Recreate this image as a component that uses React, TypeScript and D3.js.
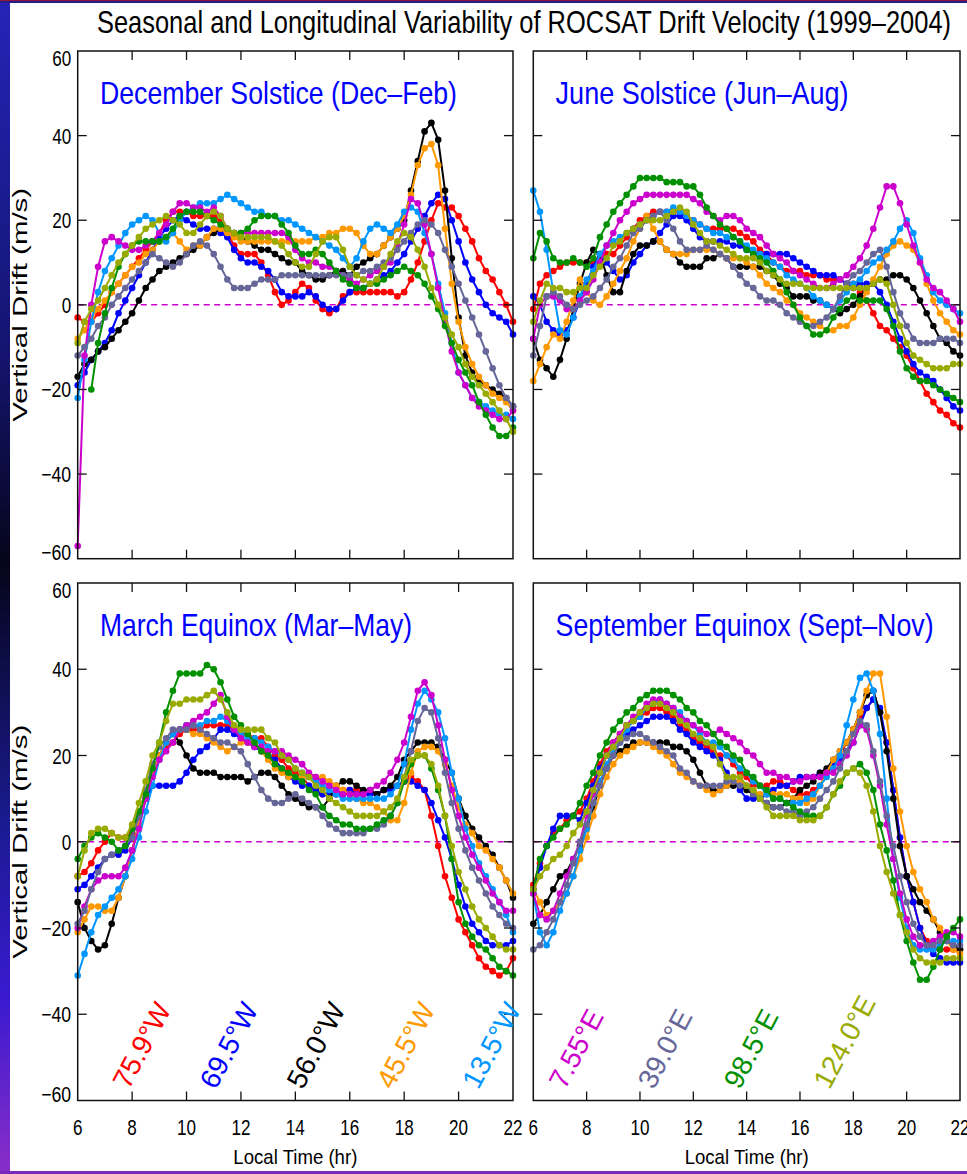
import React from 'react';
import * as d3 from 'd3';

// ---------------- data ----------------
const HOURS: number[] = d3.range(0, 65).map((i) => 6 + i * 0.25);
const X_TICKS = [6, 8, 10, 12, 14, 16, 18, 20, 22];
const Y_TICKS = [-60, -40, -20, 0, 20, 40, 60];

const SERIES_NAMES = ['75.9°W', '69.5°W', '56.0°W', '45.5°W', '13.5°W', '7.55°E', '39.0°E', '98.5°E', '124.0°E'];
const SERIES_COLORS = ['#ff0000', '#0000ff', '#000000', '#ff9900', '#0096ff', '#cc00cc', '#666699', '#009000', '#99aa00'];
const PANEL_TITLES = ['December Solstice (Dec–Feb)', 'June Solstice (Jun–Aug)', 'March Equinox (Mar–May)', 'September Equinox (Sept–Nov)'];
const LABEL_HOURS_LEFT = [7.25, 10.45, 13.65, 16.95, 20.1];
const LABEL_HOURS_RIGHT = [6.55, 9.88, 13.1, 16.47];
const LABEL_VALUE = -57.7;

type V = number | null;

// December Solstice
const dec_759W: V[] = [-3,-4,-4,-2, 0,3,5,7, 9,11,13,15, 17,20,22,22, 22,21,21,21, 21,20,17,14, 12,12,12,10, 7,3,0,1, 3,5,4,1, -1,-2,-1,2, 3,3,3,3, 3,3,3,2, 3,6,10,15, 20,24,23,23, 21,18,15,11, 8,6,3,0, -4];
const dec_695W: V[] = [-19,-16,-13,-11, -9,-6,-2,1, 4,7,10,13, 16,18,20,21, 20,19,18,18, 18,17,16,13, 11,10,10,9, 8,6,3,2, 2,2,3,2, 0,-1,-1,1, 3,4,4,5, 6,7,8,10, 12,15,18,21, 24,26,25,20, 15,10,6,3, 0,-2,-3,-4, -7];
const dec_560W: V[] = [-17,-14,-13,-11, -10,-8,-6,-4, -2,1,4,6, 8,9,10,11, 12,13,14,16, 17,18,18,17, 16,15,14,13, 13,12,11,10, 10,8,7,6, 6,7,8,8, 7,9,10,11, 12,14,16,18, 20,27,34,41, 43,39,27,11, -3,-12,-16,-18, -19,-20,-21,-22, -24];
const dec_455W: V[] = [-8,-6,-3,-1, 1,3,5,7, 9,10,12,13, 15,16,17,15, 13,14,14,16, 18,18,17,16, 15,15,15,15, 15,15,15,15, 15,15,15,16, 16,17,17,18, 18,17,14,12, 12,14,16,18, 21,26,33,37, 38,33,18,5, -4,-10,-14,-17, -19,-21,-22,-23, -25];
const dec_135W: V[] = [-22,-13,-4,3, 8,11,14,17, 19,20,21,20, 17,15,17,20, 22,23,24,24, 24,25,26,25, 24,23,22,22, 21,21,20,20, 19,18,17,16, 15,14,13,11, 9,11,15,18, 19,18,17,19, 22,23,22,17, 12,5,-2,-9, -16,-19,-22,-23, -24,-25,-26,-26, -27];
const dec_755E: V[] = [-57,-12,0,9, 15,16,15,14, 13,13,14,15, 17,19,22,24, 24,23,23,22, 23,21,18,17, 17,17,17,17, 17,17,17,16, 13,11,10,10, 9,9,8,7, 6,5,6,7, 8,9,10,14, 19,25,24,19, 12,4,-4,-11, -16,-19,-22,-24, -25,-26,-27,-27, -25];
const dec_390E: V[] = [-12,-10,-8,-5, -3,0,2,4, 6,8,10,12, 11,10,9,10, 12,14,15,14, 12,9,6,4, 4,4,5,6, 6,6,7,7, 7,7,7,7, 7,7,7,7, 7,7,8,8, 9,10,11,13, 15,17,19,20, 19,17,13,9, 5,1,-3,-7, -11,-15,-19,-22, -24];
const dec_985E: V[] = [null,null,-20,-9, -2,4,9,12, 14,15,15,15, 15,16,18,21, 22,22,22,21, 20,19,18,17, 17,18,20,21, 21,21,19,17, 14,12,12,13, 12,10,8,6, 5,4,4,5, 5,6,7,8, 9,8,7,5, 2,-1,-5,-9, -13,-16,-19,-23, -26,-29,-31,-31, -29];
const dec_1240E: V[] = [-9,-4,-1,1, 4,7,10,12, 14,16,18,19, 20,21,20,19, 17,17,19,21, 22,21,18,17, 16,16,16,16, 16,15,14,12, 10,9,9,12, 15,16,16,13, 9,7,6,5, 6,9,12,15, 17,16,13,9, 4,0,-3,-7, -10,-14,-17,-19, -21,-23,-25,-27, -30];

// June Solstice
const jun_759W: V[] = [-1,5,7,8, 9,10,10,10, 10,10,11,12, 12,14,16,18, 20,21,22,22, 22,22,22,21, 20,19,18,18, 18,18,18,17, 16,15,13,12, 10,9,8,8, 8,7,7,7, 6,6,6,5, 5,3,1,-2, -5,-6,-8,-10, -12,-15,-18,-21, -23,-25,-26,-28, -29];
const jun_695W: V[] = [2,0,-4,-6, -7,-6,-3,1, 5,9,12,10, 8,6,7,10, 12,14,15,17, 19,21,21,20, 18,16,15,15, 15,15,14,14, 13,12,12,12, 12,12,12,11, 10,9,8,7, 7,7,6,5, 4,5,5,5, 3,0,-4,-8, -11,-14,-16,-17, -18,-20,-22,-24, -25];
const jun_560W: V[] = [-8,-13,-15,-17, -13,-8,-1,5, 10,13,12,7, 3,3,8,12, 14,14,15,15, 13,12,10,9, 9,9,11,11, 12,11,9,9, 9,9,9,8, 7,5,4,2, 2,2,1,1, 0,-1,-2,-1, 0,2,4,5, 6,6,7,7, 6,4,1,-2, -5,-8,-9,-11, -12];
const jun_455W: V[] = [-18,-14,-10,-7, -8,-4,1,6, 3,1,0,2, 5,8,11,15, 18,21,18,15, 13,12,12,12, 13,13,13,13, 12,11,11,11, 10,9,7,5, 4,3,1,0, -2,-3,-4,-5, -6,-6,-5,-5, -3,0,3,6, 9,12,14,15, 14,13,10,5, 1,-2,-4,-6, -7];
const jun_135W: V[] = [27,22,13,3, -6,-7,-3,2, 6,8,12,14, 15,16,17,18, 19,20,21,22, 22,23,22,21, 20,19,18,17, 17,16,16,15, 14,13,12,11, 10,9,7,6, 5,4,2,1, 0,-1,1,3, 5,6,8,10, 11,13,15,18, 20,17,11,7, 3,1,0,-1, -2];
const jun_755E: V[] = [-8,0,2,2, 1,-1,-1,1, 3,6,10,14, 17,20,22,24, 25,26,26,26, 26,26,26,26, 25,24,22,21, 20,21,21,20, 18,17,16,14, 12,11,10,8, 7,6,5,4, 4,5,6,7, 9,11,14,18, 23,28,28,24, 19,14,10,6, 4,3,1,-1, -4];
const jun_390E: V[] = [-12,-5,2,3, 2,0,-1,0, 1,2,4,6, 9,11,14,17, 18,20,21,22, 20,18,15,13, 13,13,14,13, 12,11,9,7, 5,4,2,1, 1,0,-2,-3, -4,-5,-5,-4, -3,-1,2,5, 7,8,10,12, 13,9,3,-2, -5,-8,-9,-9, -9,-8,-8,-8, -9];
const jun_985E: V[] = [11,17,15,11, 10,10,11,10, 9,11,16,19, 22,24,26,28, 30,30,30,30, 29,29,29,28, 28,26,23,21, 19,18,16,15, 13,12,11,10, 8,6,3,0, -3,-5,-7,-7, -6,-3,-1,1, 2,1,1,1, 1,-1,-5,-11, -15,-17,-18,-18, -19,-20,-21,-22, -23];
const jun_1240E: V[] = [-4,1,5,4, 4,3,3,4, 4,7,9,11, 14,15,17,18, 19,20,20,20, 21,22,23,22, 19,17,15,15, 14,13,12,11, 11,11,10,8, 7,6,5,5, 5,4,4,4, 4,4,4,4, 4,4,4,5, 6,5,0,-5, -9,-12,-13,-14, -15,-15,-15,-14, -14];

// March Equinox
const mar_759W: V[] = [-8,-7,-5,-2, 0,2,1,1, 2,6,11,16, 20,22,23,25, 26,26,26,27, 27,27,27,26, 25,25,24,24, 22,20,19,17, 16,15,13,12, 11,11,11,12, 12,12,11,11, 11,12,12,13, 14,15,14,12, 6,-1,-8,-13, -18,-21,-24,-27, -29,-30,-31,-30, -27];
const mar_695W: V[] = [-11,-10,-8,-6, -4,-3,-3,-2, 1,6,10,13, 13,13,13,14, 16,19,21,22, 24,26,26,25, 24,23,22,21, 20,19,17,15, 14,13,13,12, 11,11,11,11, 12,11,11,11, 11,12,12,13, 14,14,13,12, 9,5,1,-4, -10,-15,-19,-21, -23,-24,-24,-24, -23];
const mar_560W: V[] = [-14,-20,-23,-25, -24,-19,-13,-8, -2,4,10,16, 20,23,25,23, 20,17,16,16, 16,15,15,15, 15,14,15,16, 16,15,13,11, 10,9,8,8, 8,10,13,14, 14,13,12,12, 11,12,13,15, 19,21,23,23, 23,22,19,16, 10,6,3,1, -1,-3,-6,-9, -13];
const mar_455W: V[] = [-21,-18,-15,-15, -16,-16,-13,-8, -2,4,10,16, 20,23,25,26, 26,25,25,24, 23,22,21,22, 23,23,23,21, 19,17,16,15, 15,15,15,15, 15,14,13,12, 11,10,9,9, 8,7,5,5, 9,16,21,22, 22,21,18,13, 8,4,2,-1, -2,-4,-6,-9, -12];
const mar_135W: V[] = [-31,-26,-21,-17, -15,-13,-11,-8, -4,1,7,13, 19,23,25,26, 27,27,27,28, 28,29,28,26, 25,24,24,23, 22,21,20,19, 17,16,15,14, 13,12,11,10, 10,10,10,10, 10,10,11,13, 18,26,32,35, 33,30,24,16, 10,3,-1,-5, -8,-11,-14,-17, -21];
const mar_755E: V[] = [-20,-15,-11,-9, -8,-8,-8,-6, -2,3,10,15, 19,21,23,26, 27,28,29,30, 32,34,29,26, 24,23,22,22, 21,21,21,20, 19,18,16,15, 14,13,12,11, 11,11,11,12, 13,14,16,19, 23,29,35,37, 34,27,19,12, 6,1,-3,-6, -9,-12,-14,-16, -16];
const mar_390E: V[] = [-19,-16,-11,-7, -4,-3,-2,-1, 1,6,12,18, 22,24,26,26, 26,27,26,25, 24,23,23,22, 21,18,15,12, 10,9,9,10, 11,10,9,8, 6,4,3,2, 2,2,2,3, 3,4,6,9, 15,21,28,31, 30,24,16,9, 3,-2,-6,-9, -12,-15,-17,-19, -20];
const mar_985E: V[] = [-4,-1,1,2, 1,0,-2,-1, 3,7,11,17, 23,30,35,39, 39,39,39,41, 40,37,33,29, 27,25,23,21, 20,18,17,16, 15,14,12,11, 8,6,5,4, 4,3,3,3, 4,5,6,9, 14,18,20,20, 17,12,6,-4, -14,-19,-22,-24, -25,-27,-29,-30, -31];
const mar_1240E: V[] = [-8,-2,2,3, 3,2,1,1, 4,9,14,20, 23,28,32,32, 33,33,33,34, 35,33,30,27, 26,26,26,26, 24,23,20,19, 17,16,15,13, 12,10,9,8, 7,6,6,6, 6,7,8,10, 15,19,20,20, 18,13,6,-1, -7,-11,-15,-18, -20,-22,-24,-25, -25];

// September Equinox
const sep_759W: V[] = [-10,-5,-1,2, 3,5,6,7, 10,14,18,21, 23,25,27,28, 29,30,31,31, 30,29,27,26, 24,23,22,21, 20,20,18,16, 15,13,13,13, 14,14,13,12, 11,11,12,13, 16,18,20,23, 26,29,31,33, 30,23,12,1, -8,-14,-20,-23, -25,-25,-25,-25, -25];
const sep_695W: V[] = [-11,-6,-1,3, 6,6,6,5, 9,13,17,20, 22,24,25,26, 27,28,29,29, 29,28,26,25, 23,22,21,20, 19,16,14,12, 10,10,10,11, 12,13,13,14, 15,15,15,16, 16,18,19,21, 23,27,31,33, 31,23,12,1, -8,-14,-20,-24, -26,-27,-28,-28, -28];
const sep_560W: V[] = [-19,-17,-14,-11, -8,-7,-4,-1, 3,8,13,17, 20,21,22,23, 23,23,23,23, 23,22,22,21, 19,16,13,12, 12,13,13,13, 12,11,10,9, 8,8,9,10, 12,13,14,16, 17,19,21,23, 26,30,34,35, 30,21,10,-1, -8,-11,-14,-16, -18,-21,-22,-24, -25];
const sep_455W: V[] = [-11,-14,-17,-16, -14,-12,-8,-4, 1,6,11,15, 18,20,21,22, 23,23,22,21, 20,18,16,15, 14,13,12,11, 12,13,14,14, 13,12,11,11, 11,11,11,10, 10,9,10,13, 16,19,21,23, 26,30,35,39, 39,29,17,7, -1,-7,-11,-14, -18,-20,-23,-25, -26];
const sep_135W: V[] = [-12,-21,-24,-21, -16,-12,-8,-2, 3,9,14,18, 21,23,26,28, 29,31,32,33, 32,31,30,28, 27,25,23,23, 22,20,19,17, 16,14,13,11, 10,10,9,9, 9,10,11,13, 15,17,20,27, 33,38,39,35, 25,10,-4,-13, -20,-24,-25,-25, -25,-24,-23,-23, -23];
const sep_755E: V[] = [-12,-17,-18,-16, -12,-8,-4,0, 6,11,16,20, 23,25,27,29, 30,32,33,33, 32,31,29,28, 27,26,25,25, 26,25,24,23, 21,20,18,16, 16,15,15,14, 14,15,15,15, 16,16,18,20, 23,27,26,20, 13,4,-4,-12, -18,-22,-24,-24, -23,-22,-21,-21, -22];
const sep_390E: V[] = [-25,-24,-21,-18, -14,-10,-5,0, 4,9,13,17, 20,23,24,25, 25,24,23,22, 21,20,17,16, 14,13,13,13, 13,14,14,13, 13,11,10,9, 8,8,7,7, 6,7,8,10, 12,14,17,21, 25,28,27,21, 14,6,-1,-8, -14,-19,-22,-24, -24,-23,-23,-24, -24];
const sep_985E: V[] = [-11,-4,-1,1, 3,4,6,9, 13,16,20,23, 26,28,30,31, 33,34,35,35, 35,34,33,31, 30,28,27,25, 23,22,20,19, 16,15,13,12, 10,10,9,8, 7,6,6,6, 8,11,13,16, 17,18,16,12, 4,-2,-9,-17, -23,-28,-32,-32, -29,-25,-22,-20, -18];
const sep_1240E: V[] = [-11,-8,-6,-4, -3,-1,2,4, 7,12,16,20, 22,24,27,28, 30,31,32,32, 31,30,28,27, 25,24,23,22, 18,15,15,15, 13,12,10,8, 6,6,6,6, 5,5,5,6, 8,11,14,16, 17,16,13,7, -1,-7,-12,-17, -21,-25,-27,-28, -28,-28,-27,-27, -27];

const DEC = [dec_759W, dec_695W, dec_560W, dec_455W, dec_135W, dec_755E, dec_390E, dec_985E, dec_1240E];
const JUN = [jun_759W, jun_695W, jun_560W, jun_455W, jun_135W, jun_755E, jun_390E, jun_985E, jun_1240E];
const MAR = [mar_759W, mar_695W, mar_560W, mar_455W, mar_135W, mar_755E, mar_390E, mar_985E, mar_1240E];
const SEP = [sep_759W, sep_695W, sep_560W, sep_455W, sep_135W, sep_755E, sep_390E, sep_985E, sep_1240E];

// ---------------- layout ----------------
const W = 967;
const H = 1174;
const FONT = "'Liberation Sans', Arial, sans-serif";
const LEFT = { x0: 77.7, x1: 513 };
const RIGHT = { x0: 533.3, x1: 960 };
const TOP = { y0: 51, y1: 558.7 };
const BOTTOM = { y0: 583, y1: 1100.5 };

type PanelSpec = {
  title: string;
  titleW: number;
  data: V[][];
  x0: number; x1: number; y0: number; y1: number;
  showX: boolean;
  labels: number[];
  labelOffset: number;
};

const PANELS: PanelSpec[] = [
  { title: PANEL_TITLES[0], titleW: 357, data: DEC, ...LEFT, ...TOP, showX: false, labels: [], labelOffset: 0 },
  { title: PANEL_TITLES[1], titleW: 293, data: JUN, ...RIGHT, ...TOP, showX: false, labels: [], labelOffset: 0 },
  { title: PANEL_TITLES[2], titleW: 312, data: MAR, ...LEFT, ...BOTTOM, showX: true, labels: LABEL_HOURS_LEFT, labelOffset: 0 },
  { title: PANEL_TITLES[3], titleW: 378, data: SEP, ...RIGHT, ...BOTTOM, showX: true, labels: LABEL_HOURS_RIGHT, labelOffset: 5 },
];

function numW(s: string) {
  let w = 0;
  for (const c of s) w += c === '−' ? 11 : 9.5;
  return w;
}
const fmt = (v: number) => (v < 0 ? '−' + Math.abs(v) : String(v));

function Panel({ p }: { p: PanelSpec }) {
  const x = d3.scaleLinear().domain([6, 22]).range([p.x0, p.x1]);
  const y = d3.scaleLinear().domain([-60, 60]).range([p.y1, p.y0]);
  const line = d3
    .line<[number, V]>()
    .defined((d) => d[1] != null)
    .x((d) => x(d[0]))
    .y((d) => y(d[1] as number));
  const tl = 9;
  return (
    <g>
      <rect x={p.x0} y={p.y0} width={p.x1 - p.x0} height={p.y1 - p.y0} fill="#fff" />
      <line x1={p.x0} x2={p.x1} y1={y(0)} y2={y(0)} stroke="#cc00cc" strokeWidth={1.5} strokeDasharray="6,4.5" />
      {p.data.map((vals, si) => {
        const pts: [number, V][] = HOURS.map((h, i) => [h, vals[i]]);
        return (
          <g key={si}>
            <path d={line(pts) || ''} fill="none" stroke={SERIES_COLORS[si]} strokeWidth={2} />
            {pts.filter((d) => d[1] != null).map((d, i) => (
              <circle key={i} cx={x(d[0])} cy={y(d[1] as number)} r={3.3} fill={SERIES_COLORS[si]} />
            ))}
          </g>
        );
      })}
      <rect x={p.x0} y={p.y0} width={p.x1 - p.x0} height={p.y1 - p.y0} fill="none" stroke="#111" strokeWidth={1.5} />
      {X_TICKS.slice(1, -1).map((t) => (
        <g key={'xt' + t}>
          <line x1={x(t)} x2={x(t)} y1={p.y1} y2={p.y1 - tl} stroke="#111" strokeWidth={1.3} />
          <line x1={x(t)} x2={x(t)} y1={p.y0} y2={p.y0 + tl} stroke="#111" strokeWidth={1.3} />
        </g>
      ))}
      {Y_TICKS.slice(1, -1).map((t) => (
        <g key={'yt' + t}>
          <line x1={p.x0} x2={p.x0 + tl} y1={y(t)} y2={y(t)} stroke="#111" strokeWidth={1.3} />
          <line x1={p.x1} x2={p.x1 - tl} y1={y(t)} y2={y(t)} stroke="#111" strokeWidth={1.3} />
        </g>
      ))}
      {p.x0 < 100 &&
        Y_TICKS.map((t) => {
          const s = fmt(t);
          const cy = Math.min(Math.max(y(t), p.y0 + 7), p.y1 - 7);
          return (
            <text key={'yl' + t} x={p.x0 - 6.5} y={cy + 8} fontSize={22} fontFamily={FONT} textAnchor="end"
              textLength={numW(s)} lengthAdjust="spacingAndGlyphs">{s}</text>
          );
        })}
      {p.showX &&
        X_TICKS.map((t) => {
          const s = String(t);
          return (
            <text key={'xl' + t} x={x(t)} y={1135} fontSize={22} fontFamily={FONT} textAnchor="middle"
              textLength={numW(s)} lengthAdjust="spacingAndGlyphs">{s}</text>
          );
        })}
      {p.showX && (
        <text x={(p.x0 + p.x1) / 2} y={1164} fontSize={21} fontFamily={FONT} textAnchor="middle"
          textLength={124} lengthAdjust="spacingAndGlyphs">Local Time (hr)</text>
      )}
      <text x={p.x0 + 22.3} y={p.y0 + 53} fontSize={32} fontFamily={FONT} fill="#0000ff"
        textLength={p.titleW} lengthAdjust="spacingAndGlyphs">{p.title}</text>
      {p.labels.map((h, i) => {
        const si = i + p.labelOffset;
        const lx = x(h) + 17;
        const ly = y(LABEL_VALUE);
        return (
          <text key={'lab' + i} x={lx} y={ly} fontSize={28} fontFamily={FONT} fill={SERIES_COLORS[si]}
            transform={`rotate(-62 ${lx} ${ly})`}>{SERIES_NAMES[si]}</text>
        );
      })}
    </g>
  );
}

export default function App() {
  const titleLeftY = (TOP.y0 + TOP.y1) / 2;
  const titleLeftY2 = (BOTTOM.y0 + BOTTOM.y1) / 2;
  return (
    <svg width={W} height={H} style={{ position: 'absolute', left: 0, top: 0, display: 'block' }}>
      <defs>
        <linearGradient id="strip" x1="0" y1="0" x2="0" y2="1">
          <stop offset="0" stopColor="#2424b8" />
          <stop offset="0.3" stopColor="#141470" />
          <stop offset="0.48" stopColor="#05051a" />
          <stop offset="0.7" stopColor="#1a1a90" />
          <stop offset="0.85" stopColor="#3a1ad0" />
          <stop offset="1" stopColor="#8a2ec8" />
        </linearGradient>
      </defs>
      <rect x={0} y={0} width={W} height={H} fill="#fff" />
      <rect x={0} y={0} width={10} height={H} fill="url(#strip)" />
      <rect x={0} y={0} width={W} height={3} fill="#2a1a8a" />
      <rect x={0} y={0} width={W} height={1} fill="#8a1a3a" />
      <rect x={0} y={H - 3} width={W} height={3} fill="#7a2ab8" />
      <text x={524} y={33} fontSize={32} fontFamily={FONT} textAnchor="middle" textLength={854}
        lengthAdjust="spacingAndGlyphs">Seasonal and Longitudinal Variability of ROCSAT Drift Velocity (1999–2004)</text>
      {PANELS.map((p, i) => (
        <Panel key={i} p={p} />
      ))}
      <text x={27} y={titleLeftY} fontSize={20} fontFamily={FONT} textAnchor="middle" textLength={234}
        lengthAdjust="spacingAndGlyphs" transform={`rotate(-90 27 ${titleLeftY})`}>Vertical Drift (m/s)</text>
      <text x={27} y={titleLeftY2} fontSize={20} fontFamily={FONT} textAnchor="middle" textLength={234}
        lengthAdjust="spacingAndGlyphs" transform={`rotate(-90 27 ${titleLeftY2})`}>Vertical Drift (m/s)</text>
    </svg>
  );
}
